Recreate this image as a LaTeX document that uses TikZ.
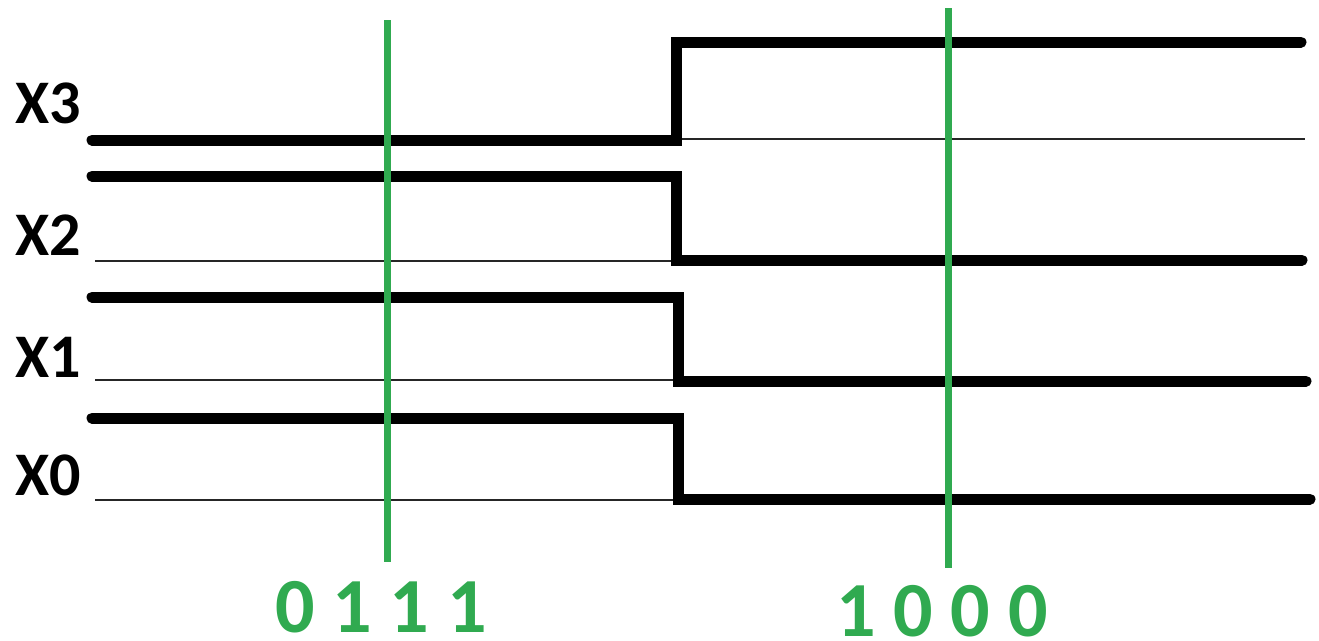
\documentclass[tikz,border=0pt]{standalone}
\usepackage{fontspec}
\setmainfont{Carlito}
\definecolor{sig}{RGB}{0,0,0}
\definecolor{cut}{RGB}{48,170,80}
\tikzset{
  thin/.style={line width=2pt, draw=black!85},
  wave/.style={line width=11pt, draw=sig, line cap=round, line join=miter},
  marker/.style={line width=7pt, draw=cut},
  lab/.style={font=\bfseries\fontsize{62}{62}\selectfont, anchor=base west, inner sep=0pt},
  val/.style={font=\bfseries\fontsize{78}{78}\selectfont, text=cut, anchor=base, inner sep=0pt}
}
\begin{document}
\begin{tikzpicture}[x=1pt,y=-1pt]
\useasboundingbox (0,0) rectangle (1319,640);
% labels
\node[lab] (l3) at (15,123) {X3};
\node[lab] (l2) at (15,255) {X2};
\node[lab] (l1) at (15,377) {X1};
\node[lab] (l0) at (15,495) {X0};
% thin baselines
\draw[thin] (95,139) -- (1305,139);
\draw[thin] (95,261) -- (673,261);
\draw[thin] (95,380) -- (673,380);
\draw[thin] (95,500) -- (673,500);
% signals
\draw[wave] (92,140) -- (676,140) -- (676,42) -- (1301,42);
\draw[wave] (92,176) -- (676,176) -- (676,260) -- (1302,260);
\draw[wave] (92,297) -- (678,297) -- (678,381) -- (1306,381);
\draw[wave] (92,418) -- (678,418) -- (678,499) -- (1310,499);
% sample markers
\draw[marker] (387,20) -- (387,562);
\draw[marker] (948,8) -- (948,568);
% values
\node[val] (v1) at (381,632) {0 1 1 1};
\node[val] (v2) at (942,636) {1 0 0 0};
\end{tikzpicture}
\end{document}
